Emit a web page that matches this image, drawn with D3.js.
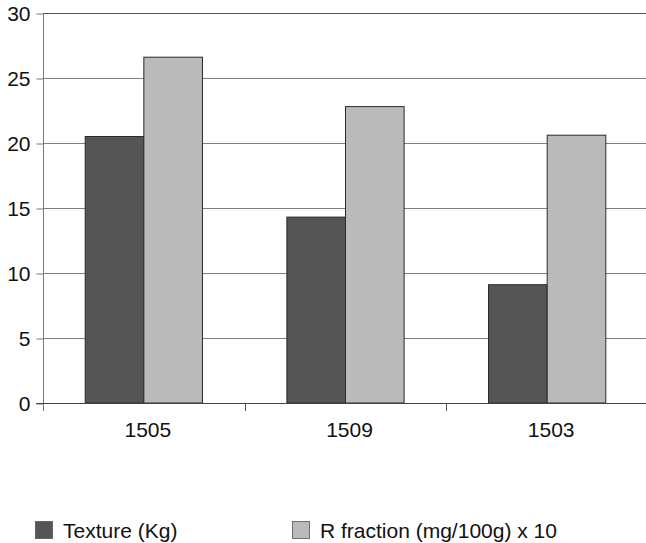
<!DOCTYPE html>
<html>
<head>
<meta charset="utf-8">
<script src="https://cdn.jsdelivr.net/npm/d3@7"></script>
<style>
  html, body { margin: 0; padding: 0; background: #fff; }
  svg { display: block; }
  text { font-family: "Liberation Sans", Arial, sans-serif; fill: #111; }
</style>
</head>
<body>
<svg id="chart" width="646" height="543"></svg>
<script>
const categories = ["1505", "1509", "1503"];
const seriesNames = ["Texture (Kg)", "R fraction (mg/100g) x 10"];
const texture = [20.5, 14.3, 9.1];
const rFraction = [26.6, 22.8, 20.6];
const yTicks = [0, 5, 10, 15, 20, 25, 30];
const colors = ["#555555", "#bababa"];

(function () {
const svg = d3.select("#chart");
const mLeft = 43, mRight = 648, mTop = 13, mBottom = 403;
const fs = 21;

const x = d3.scaleBand().domain(categories).range([mLeft, mRight]).paddingInner(0).paddingOuter(0);
const xs = d3.scaleBand().domain(seriesNames).range([0, x.bandwidth()]).paddingInner(0).paddingOuter(0.72);
const y = d3.scaleLinear().domain([0, 30]).range([mBottom, mTop]);

// gridlines
svg.append("g").selectAll("line").data(yTicks.filter(d => d > 0)).join("line")
  .attr("x1", mLeft).attr("x2", 646)
  .attr("y1", d => Math.round(y(d)) + 0.5).attr("y2", d => Math.round(y(d)) + 0.5)
  .attr("stroke", d => d === 30 ? "#555" : "#808080").attr("stroke-width", 1);

// y axis
const yAxis = d3.axisLeft(y).tickValues(yTicks).tickSize(7).tickPadding(6);
const gy = svg.append("g").attr("transform", `translate(${mLeft + 0.5},0.5)`).call(yAxis);
gy.select(".domain").remove();
gy.selectAll(".tick line").attr("stroke", "#777");
gy.selectAll(".tick text").attr("font-size", fs).attr("fill", "#111")
  .attr("font-family", "Liberation Sans, Arial, sans-serif");
svg.append("line").attr("x1", mLeft + 0.5).attr("x2", mLeft + 0.5)
  .attr("y1", mTop).attr("y2", mBottom + 8).attr("stroke", "#777");

// bars
const data = categories.map((c, i) => ({ c, vals: [texture[i], rFraction[i]] }));
const groups = svg.append("g").selectAll("g").data(data).join("g")
  .attr("transform", d => `translate(${x(d.c)},0)`);
groups.selectAll("rect").data(d => d.vals.map((v, j) => ({ v, s: seriesNames[j], j })))
  .join("rect")
  .attr("x", d => xs(d.s)).attr("width", xs.bandwidth())
  .attr("y", d => y(d.v)).attr("height", d => y(0) - y(d.v))
  .attr("fill", d => colors[d.j]).attr("stroke", "#2a2a2a").attr("stroke-width", 1);

// x axis
svg.append("line").attr("x1", 36).attr("x2", 646)
  .attr("y1", mBottom + 0.5).attr("y2", mBottom + 0.5).attr("stroke", "#444");
svg.append("g").selectAll("line").data(categories.slice(1)).join("line")
  .attr("x1", d => Math.round(x(d)) + 0.5).attr("x2", d => Math.round(x(d)) + 0.5)
  .attr("y1", mBottom).attr("y2", mBottom + 8).attr("stroke", "#555");
svg.append("g").selectAll("text").data(categories).join("text")
  .attr("x", d => x(d) + x.bandwidth() / 2 + 4).attr("y", 437)
  .attr("text-anchor", "middle").attr("font-size", fs).text(d => d);

// legend
const legendX = [35, 292];
const lg = svg.append("g").selectAll("g").data(seriesNames).join("g")
  .attr("transform", (d, i) => `translate(${legendX[i]},521)`);
lg.append("rect").attr("x", 0.5).attr("y", 0.5).attr("width", 17).attr("height", 17)
  .attr("fill", (d, i) => colors[i]).attr("stroke", "#555").attr("stroke-width", 0.8);
lg.append("text").attr("x", 28).attr("y", 16.5).attr("font-size", fs).text(d => d);
})();
</script>
</body>
</html>
